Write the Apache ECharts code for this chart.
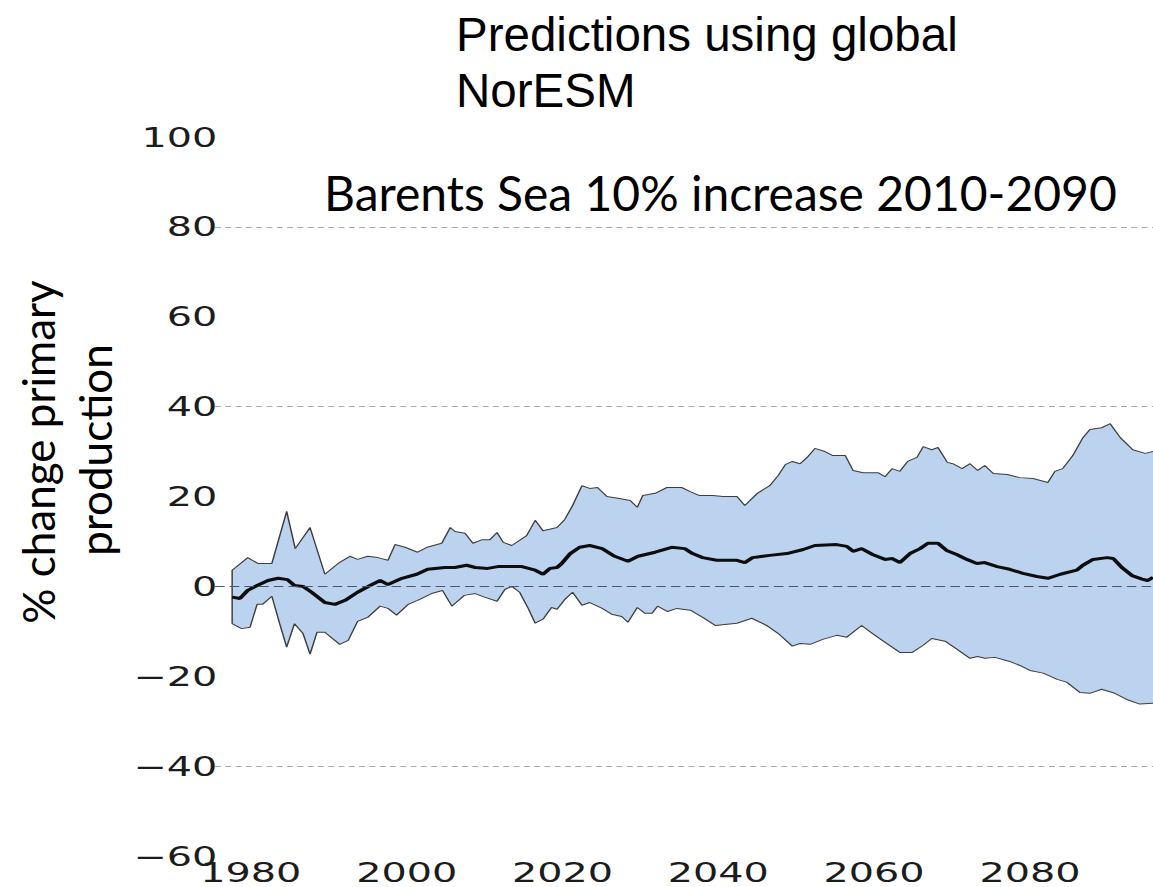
<!DOCTYPE html>
<html>
<head>
<meta charset="utf-8">
<script src="https://cdn.jsdelivr.net/npm/echarts@6/dist/echarts.min.js"></script>
<style>
  html, body { margin: 0; padding: 0; background: #ffffff; overflow: hidden; }
  #wrap { position: relative; width: 1153px; height: 887px; }
  /* the plot panel is drawn narrow and stretched sideways, like the slide it sits on */
  #plot { position: absolute; left: 0; top: 0; width: 784px; height: 887px;
          transform: scaleX(1.4707); transform-origin: 0 0; }
  #captions { position: absolute; left: 0; top: 0; width: 1153px; height: 887px; pointer-events: none; }
</style>
</head>
<body>
<div id="wrap">
  <div id="plot"></div>
  <div id="captions"></div>
</div>
<script>
// ---- data: % change in primary production (ensemble spread and mean) ----
const upperYears = [1977.6, 1979.6, 1980.9, 1982.7, 1984.6, 1985.7, 1987.6, 1989.5, 1991.2, 1992.7,
  1993.7, 1995.0, 1996.3, 1997.6, 1998.5, 1999.8, 2001.4, 2002.6, 2004.5, 2005.6,
  2006.2, 2007.5, 2008.5, 2009.7, 2010.7, 2011.6, 2012.4, 2013.5, 2015.4, 2016.5,
  2017.5, 2019.3, 2020.3, 2021.3, 2022.5, 2023.5, 2024.5, 2025.7, 2027.1, 2028.7,
  2029.6, 2030.3, 2031.9, 2033.4, 2035.3, 2036.4, 2037.6, 2039.3, 2040.6, 2042.4,
  2043.4, 2045.0, 2046.6, 2047.7, 2048.6, 2049.5, 2050.5, 2051.4, 2052.4, 2053.7,
  2054.7, 2056.3, 2057.3, 2058.6, 2060.5, 2061.4, 2062.3, 2063.3, 2064.3, 2065.5,
  2066.3, 2067.4, 2068.2, 2069.4, 2070.1, 2071.3, 2072.3, 2073.3, 2074.2, 2075.3,
  2077.1, 2078.7, 2080.4, 2082.3, 2083.2, 2084.2, 2085.5, 2086.8, 2087.7, 2089.2,
  2090.3, 2091.6, 2093.2, 2094.8, 2095.8];
const upperValues = [3.6, 6.4, 5.1, 5.1, 16.7, 8.4, 13.1, 2.7, 5.1, 6.7,
  6.0, 6.7, 6.4, 5.8, 9.3, 8.7, 7.6, 8.7, 9.6, 13.1,
  12.2, 11.8, 9.6, 10.4, 10.4, 12.0, 9.8, 9.1, 11.3, 14.7,
  12.4, 13.1, 14.9, 18.0, 22.4, 21.8, 22.0, 20.0, 19.6, 19.1,
  17.6, 20.2, 20.7, 22.0, 22.0, 21.1, 20.2, 20.2, 20.0, 20.0,
  18.0, 20.7, 22.4, 24.7, 27.1, 27.8, 27.3, 28.7, 30.7, 30.0,
  29.1, 29.1, 25.8, 25.3, 25.3, 24.4, 26.2, 25.6, 27.8, 28.7,
  31.1, 30.4, 30.9, 27.6, 27.3, 26.2, 27.3, 25.8, 26.9, 25.1,
  24.9, 24.2, 24.0, 23.1, 25.6, 26.2, 29.1, 33.1, 34.9, 35.3,
  36.2, 33.1, 30.4, 29.6, 30.0];

const lowerYears = [1977.6, 1978.8, 1979.9, 1980.8, 1981.5, 1982.7, 1983.7, 1984.6, 1985.6, 1986.7,
  1987.6, 1988.5, 1989.5, 1991.4, 1992.5, 1993.7, 1995.0, 1996.6, 1997.6, 1998.7,
  2000.2, 2001.4, 2003.2, 2004.6, 2005.8, 2006.2, 2007.4, 2008.8, 2010.0, 2011.6,
  2012.6, 2013.5, 2014.5, 2015.6, 2016.5, 2017.5, 2018.6, 2019.3, 2020.3, 2021.3,
  2022.5, 2023.5, 2025.1, 2026.3, 2027.6, 2028.4, 2029.6, 2030.6, 2031.5, 2032.2,
  2033.5, 2034.7, 2036.4, 2038.0, 2039.6, 2042.4, 2044.3, 2046.2, 2047.7, 2049.5,
  2050.5, 2051.8, 2053.4, 2055.2, 2056.5, 2058.4, 2059.8, 2061.6, 2063.3, 2064.9,
  2066.3, 2067.4, 2069.1, 2070.8, 2072.3, 2073.3, 2074.2, 2075.5, 2077.4, 2078.7,
  2080.0, 2081.7, 2083.5, 2084.7, 2086.4, 2087.7, 2089.2, 2090.9, 2092.6, 2094.1,
  2095.8];
const lowerValues = [-8.3, -9.4, -9.1, -4.0, -4.0, -2.2, -8.3, -13.5, -8.3, -10.5,
  -15.1, -10.2, -10.2, -12.9, -12.0, -7.8, -6.9, -4.4, -4.9, -6.4,
  -4.0, -3.1, -1.6, -0.9, -4.4, -3.8, -2.0, -1.6, -2.4, -3.3,
  -0.7, 0.0, -1.3, -4.9, -8.2, -7.3, -4.7, -5.1, -2.9, -1.3,
  -4.2, -3.6, -4.9, -6.2, -6.7, -8.0, -4.7, -6.0, -6.0, -4.4,
  -5.6, -4.9, -5.3, -6.9, -8.7, -8.2, -7.1, -8.7, -10.5, -13.3,
  -12.7, -12.9, -11.8, -10.9, -11.3, -8.7, -10.5, -12.7, -14.7, -14.7,
  -13.1, -11.6, -12.2, -14.2, -16.0, -15.6, -16.0, -15.8, -16.7, -17.6,
  -18.7, -19.3, -20.7, -21.3, -23.6, -23.8, -22.9, -23.8, -25.3, -26.2,
  -26.0];

const meanYears = [1977.6, 1978.6, 1979.6, 1980.8, 1982.2, 1983.5, 1984.7, 1985.6, 1986.7, 1987.8,
  1989.5, 1990.8, 1992.1, 1993.7, 1995.3, 1996.6, 1997.6, 1999.4, 2001.3, 2002.7,
  2004.9, 2006.2, 2007.7, 2008.8, 2010.4, 2011.7, 2014.8, 2016.5, 2017.5, 2018.4,
  2019.3, 2019.9, 2021.0, 2022.2, 2023.5, 2025.1, 2026.7, 2028.4, 2029.7, 2031.9,
  2034.0, 2035.7, 2036.7, 2038.0, 2039.8, 2042.4, 2043.4, 2044.4, 2046.6, 2048.8,
  2050.9, 2052.4, 2055.2, 2056.5, 2057.3, 2058.4, 2059.8, 2061.4, 2062.3, 2063.3,
  2064.6, 2065.9, 2066.9, 2068.2, 2069.3, 2070.6, 2071.9, 2073.2, 2074.2, 2075.8,
  2077.4, 2079.1, 2080.9, 2082.3, 2083.9, 2086.0, 2086.8, 2088.1, 2089.9, 2090.7,
  2091.8, 2093.1, 2094.4, 2095.1, 2095.8];
const meanValues = [-2.4, -2.7, -0.9, 0.2, 1.3, 1.8, 1.5, 0.2, 0.0, -1.3,
  -3.6, -4.0, -3.1, -1.3, 0.2, 1.3, 0.4, 1.8, 2.7, 3.8,
  4.2, 4.2, 4.7, 4.2, 4.0, 4.4, 4.4, 3.6, 2.7, 4.0,
  4.2, 5.1, 7.3, 8.7, 9.1, 8.4, 6.7, 5.6, 6.7, 7.6,
  8.7, 8.4, 7.3, 6.4, 5.8, 5.8, 5.3, 6.4, 6.9, 7.3,
  8.2, 9.1, 9.3, 8.9, 7.8, 8.4, 7.1, 6.0, 6.2, 5.3,
  7.3, 8.4, 9.6, 9.6, 8.0, 7.1, 6.0, 5.1, 5.3, 4.4,
  3.8, 2.9, 2.2, 1.8, 2.7, 3.6, 4.7, 6.0, 6.4, 6.2,
  4.2, 2.4, 1.6, 1.3, 2.0];

// axis ticks and reference levels
const yearTicks = [1980, 2000, 2020, 2040, 2060, 2080];
const gridLevels = [80, 40, -40];
const zeroLevel = 0;

// ---- text ----
const headline = 'Predictions using global\nNorESM';
const subline = 'Barents Sea 10% increase 2010-2090';
const yTitleLines = ['% change primary', 'production'];

// ---- style ----
const BAND_FILL = '#bbd3ee';
const EDGE_COLOR = '#3d3d3d';
const MEAN_COLOR = '#0d0d0d';
const TICK_FONT = 'DejaVu Sans';
const STRETCH = 1153 / 784;

function pairs(xs, ys) { return xs.map((x, i) => [x, ys[i]]); }
function signed(v) { return v < 0 ? '\u2212' + Math.abs(v) : String(v); }

const plot = echarts.init(document.getElementById('plot'), null, { renderer: 'svg' });

const gridLineData = gridLevels.map(v => ({
  yAxis: v,
  lineStyle: { color: '#a9a9a9', width: 1, type: [4, 3] }
}));
gridLineData.push({
  yAxis: zeroLevel,
  lineStyle: { color: '#4b5866', width: 1.2, type: [6.5, 3.5] }
});

plot.setOption({
  animation: false,
  backgroundColor: 'transparent',
  grid: { left: 215 / STRETCH, right: 0, top: 137, bottom: 887 - 856, containLabel: false },
  xAxis: {
    type: 'value',
    min: 1975.4,
    max: 2095.8,
    axisLine: { show: false },
    axisTick: { show: false },
    splitLine: { show: false },
    axisLabel: {
      customValues: yearTicks,
      formatter: v => String(v),
      fontFamily: TICK_FONT,
      fontSize: 27,
      color: '#1c1c1c',
      margin: 3
    }
  },
  yAxis: {
    type: 'value',
    min: -60,
    max: 100,
    interval: 20,
    axisLine: { show: false },
    axisTick: { show: false },
    splitLine: { show: false },
    axisLabel: {
      formatter: signed,
      fontFamily: TICK_FONT,
      fontSize: 27,
      color: '#1c1c1c',
      margin: -1.5,
      showMinLabel: true,
      showMaxLabel: true
    }
  },
  series: [
    {
      // ensemble spread as a filled polygon between the upper and lower envelope
      name: 'spread',
      type: 'custom',
      coordinateSystem: 'cartesian2d',
      clip: true,
      silent: true,
      z: 1,
      data: [[2000, 0]],
      renderItem: function (params, api) {
        const pts = [];
        for (let i = 0; i < upperYears.length; i++) pts.push(api.coord([upperYears[i], upperValues[i]]));
        for (let i = lowerYears.length - 1; i >= 0; i--) pts.push(api.coord([lowerYears[i], lowerValues[i]]));
        return { type: 'polygon', shape: { points: pts }, style: { fill: BAND_FILL, stroke: null } };
      }
    },
    {
      name: 'lower',
      type: 'line',
      z: 2,
      silent: true,
      symbol: 'none',
      data: pairs(lowerYears, lowerValues),
      lineStyle: { color: EDGE_COLOR, width: 1 },
      markLine: {
        silent: true,
        symbol: ['none', 'none'],
        label: { show: false },
        data: gridLineData
      }
    },
    {
      name: 'upper',
      type: 'line',
      z: 2,
      silent: true,
      symbol: 'none',
      data: [[lowerYears[0], lowerValues[0]]].concat(pairs(upperYears, upperValues)),
      lineStyle: { color: EDGE_COLOR, width: 1 }
    },
    {
      name: 'mean',
      type: 'line',
      z: 4,
      silent: true,
      symbol: 'none',
      data: pairs(meanYears, meanValues),
      lineStyle: { color: MEAN_COLOR, width: 3 }
    }
  ]
});

// captions laid over the plot panel, not stretched
const captions = echarts.init(document.getElementById('captions'), null, { renderer: 'svg' });
captions.setOption({
  animation: false,
  backgroundColor: 'transparent',
  graphic: [
    {
      type: 'text', left: 456, top: 6,
      style: { text: headline, font: '47.5px "Liberation Sans", Arial, sans-serif', lineHeight: 56, fill: '#000000' }
    },
    {
      type: 'text', left: 324, top: 168,
      style: { text: subline, font: '48px Lato, "Noto Sans", sans-serif', fill: '#000000' }
    },
    {
      type: 'text', x: 38, y: 452, rotation: Math.PI / 2,
      style: { text: yTitleLines[0], font: '44px Lato, "Noto Sans", sans-serif', fill: '#000000',
               align: 'center', verticalAlign: 'middle' }
    },
    {
      type: 'text', x: 95, y: 450, rotation: Math.PI / 2,
      style: { text: yTitleLines[1], font: '44px Lato, "Noto Sans", sans-serif', fill: '#000000',
               align: 'center', verticalAlign: 'middle' }
    }
  ]
});
</script>
</body>
</html>
